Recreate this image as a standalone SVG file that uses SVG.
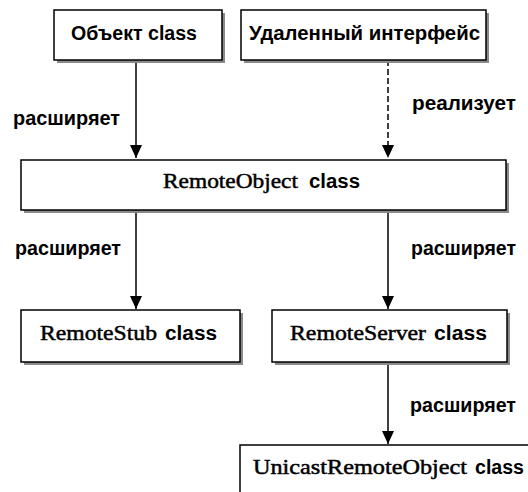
<svg xmlns="http://www.w3.org/2000/svg" width="528" height="492" viewBox="0 0 528 492">
  <style>
    .shadow { fill: #8a8a8a; }
    .box { fill: #ffffff; stroke: #000000; stroke-width: 1.5; }
    .serif { font-family: "Liberation Serif", "Times New Roman", serif; font-size: 20px; fill: #000; stroke: #000; stroke-width: 0.45; }
    .sans { font-family: "Liberation Sans", Arial, sans-serif; font-size: 20px; font-weight: bold; fill: #000; }
    .label { font-family: "Liberation Sans", Arial, sans-serif; font-size: 21px; font-weight: bold; fill: #000; }
    .edge { stroke: #000; stroke-width: 1.5; fill: none; }
    .dashed { stroke-dasharray: 6 3; }
  </style>
  <defs>
    <marker id="arrow" viewBox="0 0 13 12" markerWidth="13" markerHeight="12" refX="13" refY="6" orient="auto" markerUnits="userSpaceOnUse">
      <path d="M0,0 L13,6 L0,12 Z" fill="#000"/>
    </marker>
  </defs>
  <rect width="528" height="492" fill="#ffffff"/>

  <!-- connectors and their labels -->
  <g id="connectors">
    <line class="edge" x1="136" y1="60" x2="136" y2="158" marker-end="url(#arrow)"/>
    <line class="edge dashed" x1="388" y1="60" x2="388" y2="158" marker-end="url(#arrow)"/>
    <line class="edge" x1="136" y1="210" x2="136" y2="309" marker-end="url(#arrow)"/>
    <line class="edge" x1="388" y1="210" x2="388" y2="309" marker-end="url(#arrow)"/>
    <line class="edge" x1="388" y1="362" x2="388" y2="444" marker-end="url(#arrow)"/>
    <text class="label" x="13" y="125" textLength="107" lengthAdjust="spacingAndGlyphs">расширяет</text>
    <text class="label" x="412" y="110" textLength="104" lengthAdjust="spacingAndGlyphs">реализует</text>
    <text class="label" x="15" y="255" textLength="106" lengthAdjust="spacingAndGlyphs">расширяет</text>
    <text class="label" x="411" y="255" textLength="105" lengthAdjust="spacingAndGlyphs">расширяет</text>
    <text class="label" x="410" y="412" textLength="106" lengthAdjust="spacingAndGlyphs">расширяет</text>
  </g>

  <g id="object">
    <rect class="shadow" x="57" y="13" width="168" height="50"/>
    <rect class="box" x="54" y="10" width="168" height="50"/>
    <text class="sans" x="71" y="40" textLength="126" lengthAdjust="spacingAndGlyphs">Объект class</text>
  </g>

  <g id="remote-interface">
    <rect class="shadow" x="244" y="13" width="245" height="50"/>
    <rect class="box" x="241" y="10" width="245" height="50"/>
    <text class="sans" x="249" y="40" textLength="231" lengthAdjust="spacingAndGlyphs">Удаленный интерфейс</text>
  </g>

  <g id="remote-object">
    <rect class="shadow" x="24" y="163" width="485" height="50"/>
    <rect class="box" x="21" y="160" width="485" height="50"/>
    <text class="serif" x="163" y="188" textLength="135" lengthAdjust="spacingAndGlyphs">RemoteObject</text>
    <text class="sans" x="309" y="188" textLength="51" lengthAdjust="spacingAndGlyphs">class</text>
  </g>

  <g id="remote-stub">
    <rect class="shadow" x="24" y="313" width="219" height="52"/>
    <rect class="box" x="21" y="310" width="219" height="52"/>
    <text class="serif" x="40" y="340" textLength="117" lengthAdjust="spacingAndGlyphs">RemoteStub</text>
    <text class="sans" x="165" y="340" textLength="52" lengthAdjust="spacingAndGlyphs">class</text>
  </g>

  <g id="remote-server">
    <rect class="shadow" x="275" y="313" width="235" height="52"/>
    <rect class="box" x="272" y="310" width="235" height="52"/>
    <text class="serif" x="290" y="340" textLength="136" lengthAdjust="spacingAndGlyphs">RemoteServer</text>
    <text class="sans" x="434" y="340" textLength="53" lengthAdjust="spacingAndGlyphs">class</text>
  </g>

  <g id="unicast-remote-object">
    <rect class="box" x="240" y="445" width="300" height="60"/>
    <text class="serif" x="253" y="474" textLength="214" lengthAdjust="spacingAndGlyphs">UnicastRemoteObject</text>
    <text class="sans" x="475" y="474" textLength="49" lengthAdjust="spacingAndGlyphs">class</text>
  </g>
</svg>
